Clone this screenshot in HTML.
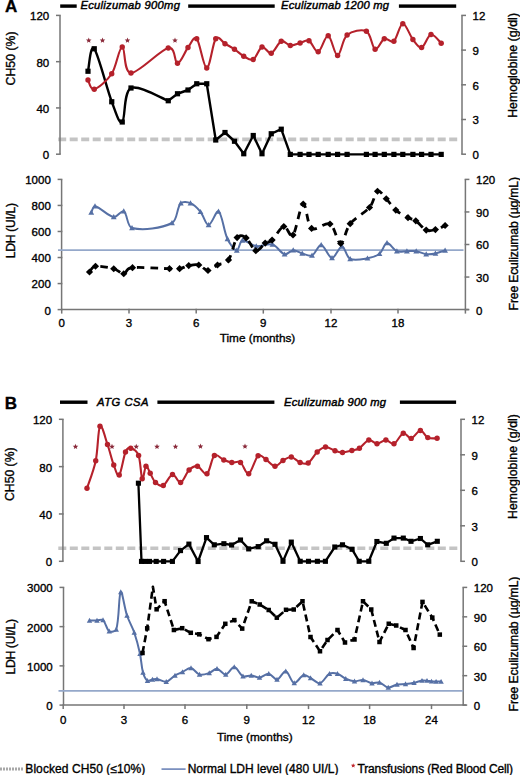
<!DOCTYPE html>
<html><head><meta charset="utf-8"><style>
html,body{margin:0;padding:0;background:#fff;}
svg{display:block;font-family:"Liberation Sans", sans-serif;}
</style></head><body>
<svg width="520" height="775" viewBox="0 0 520 775">
<rect width="520" height="775" fill="#fff"/>
<text x="5.00" y="12.40" font-size="17.00" text-anchor="start" font-weight="bold" font-style="normal" fill="#000" stroke="#000" stroke-width="0.35" >A</text>
<rect x="60.20" y="4.40" width="16.50" height="3.40" fill="#000"/>
<text x="80.40" y="8.90" font-size="11.20" text-anchor="start" font-weight="normal" font-style="italic" fill="#000" stroke="#000" stroke-width="0.45"  textLength="99.50" lengthAdjust="spacing">Eculizumab 900mg</text>
<rect x="188.20" y="4.40" width="86.50" height="3.40" fill="#000"/>
<text x="281.10" y="8.90" font-size="11.20" text-anchor="start" font-weight="normal" font-style="italic" fill="#000" stroke="#000" stroke-width="0.45"  textLength="107.80" lengthAdjust="spacing">Eculizumab 1200 mg</text>
<rect x="398.90" y="4.40" width="57.30" height="3.40" fill="#000"/>
<line x1="58.20" y1="139.40" x2="460.00" y2="139.40" stroke="#c4c4c4" stroke-width="3.60" stroke-dasharray="8 3.5"/>
<line x1="60.00" y1="15.40" x2="60.00" y2="154.20" stroke="#767676" stroke-width="1.50" />
<line x1="56.00" y1="15.40" x2="60.75" y2="15.40" stroke="#767676" stroke-width="1.50" />
<text x="49.20" y="20.30" font-size="11.50" text-anchor="end" font-weight="normal" font-style="normal" fill="#000" stroke="#000" stroke-width="0.35" >120</text>
<line x1="56.00" y1="61.67" x2="60.75" y2="61.67" stroke="#767676" stroke-width="1.50" />
<text x="49.20" y="66.57" font-size="11.50" text-anchor="end" font-weight="normal" font-style="normal" fill="#000" stroke="#000" stroke-width="0.35" >80</text>
<line x1="56.00" y1="107.93" x2="60.75" y2="107.93" stroke="#767676" stroke-width="1.50" />
<text x="49.20" y="112.83" font-size="11.50" text-anchor="end" font-weight="normal" font-style="normal" fill="#000" stroke="#000" stroke-width="0.35" >40</text>
<line x1="56.00" y1="154.20" x2="60.75" y2="154.20" stroke="#767676" stroke-width="1.50" />
<text x="49.20" y="159.10" font-size="11.50" text-anchor="end" font-weight="normal" font-style="normal" fill="#000" stroke="#000" stroke-width="0.35" >0</text>
<line x1="462.00" y1="15.40" x2="462.00" y2="154.20" stroke="#767676" stroke-width="1.50" />
<line x1="461.25" y1="15.40" x2="466.00" y2="15.40" stroke="#767676" stroke-width="1.50" />
<text x="472.60" y="20.30" font-size="11.50" text-anchor="start" font-weight="normal" font-style="normal" fill="#000" stroke="#000" stroke-width="0.35" >12</text>
<line x1="461.25" y1="50.10" x2="466.00" y2="50.10" stroke="#767676" stroke-width="1.50" />
<text x="472.60" y="55.00" font-size="11.50" text-anchor="start" font-weight="normal" font-style="normal" fill="#000" stroke="#000" stroke-width="0.35" >9</text>
<line x1="461.25" y1="84.80" x2="466.00" y2="84.80" stroke="#767676" stroke-width="1.50" />
<text x="472.60" y="89.70" font-size="11.50" text-anchor="start" font-weight="normal" font-style="normal" fill="#000" stroke="#000" stroke-width="0.35" >6</text>
<line x1="461.25" y1="119.50" x2="466.00" y2="119.50" stroke="#767676" stroke-width="1.50" />
<text x="472.60" y="124.40" font-size="11.50" text-anchor="start" font-weight="normal" font-style="normal" fill="#000" stroke="#000" stroke-width="0.35" >3</text>
<line x1="461.25" y1="154.20" x2="466.00" y2="154.20" stroke="#767676" stroke-width="1.50" />
<text x="472.60" y="159.10" font-size="11.50" text-anchor="start" font-weight="normal" font-style="normal" fill="#000" stroke="#000" stroke-width="0.35" >0</text>
<text transform="translate(14.50,58.40) rotate(-90)" x="0" y="0" font-size="12.20" text-anchor="middle" font-weight="normal" stroke="#000" stroke-width="0.35" textLength="54.00" lengthAdjust="spacing">CH50 (%)</text>
<text transform="translate(517.20,65.40) rotate(-90)" x="0" y="0" font-size="12.20" text-anchor="middle" font-weight="normal" stroke="#000" stroke-width="0.35" textLength="104.80" lengthAdjust="spacing">Hemoglobine (g/dl)</text>
<path d="M88.00,71.25 C89.04,67.50 90.29,43.67 94.25,48.75 C98.21,53.83 107.08,89.54 111.75,101.75 C116.42,113.96 119.04,124.29 122.25,122.00 C125.46,119.71 123.33,91.54 131.00,88.00 C138.67,84.46 162.04,98.62 168.25,100.75" fill="none" stroke="#000" stroke-width="2.4" stroke-linejoin="round"/>
<path d="M168.25,100.75 L177.50,93.75 L188.00,90.00 L196.75,83.75 L206.75,83.75 L215.75,140.00 L225.00,132.50 L234.50,141.25 L243.75,153.75 L253.25,135.50 L262.00,153.75 L271.25,133.75 L281.25,129.20 L290.30,154.40 L300.10,154.40 L309.00,154.40 L318.20,154.40 L328.20,154.40 L337.60,154.40 L347.10,154.40 L366.40,154.40 L375.10,154.40 L384.30,154.40 L393.90,154.40 L402.80,154.40 L412.90,154.40 L421.60,154.40 L431.00,154.40 L441.20,154.40" fill="none" stroke="#000" stroke-width="2.4" stroke-linejoin="round"/>
<rect x="85.40" y="68.65" width="5.20" height="5.20" fill="#000"/>
<rect x="91.65" y="46.15" width="5.20" height="5.20" fill="#000"/>
<rect x="109.15" y="99.15" width="5.20" height="5.20" fill="#000"/>
<rect x="119.65" y="119.40" width="5.20" height="5.20" fill="#000"/>
<rect x="128.40" y="85.40" width="5.20" height="5.20" fill="#000"/>
<rect x="165.65" y="98.15" width="5.20" height="5.20" fill="#000"/>
<rect x="174.90" y="91.15" width="5.20" height="5.20" fill="#000"/>
<rect x="185.40" y="87.40" width="5.20" height="5.20" fill="#000"/>
<rect x="194.15" y="81.15" width="5.20" height="5.20" fill="#000"/>
<rect x="204.15" y="81.15" width="5.20" height="5.20" fill="#000"/>
<rect x="213.15" y="137.40" width="5.20" height="5.20" fill="#000"/>
<rect x="222.40" y="129.90" width="5.20" height="5.20" fill="#000"/>
<rect x="231.90" y="138.65" width="5.20" height="5.20" fill="#000"/>
<rect x="241.15" y="151.15" width="5.20" height="5.20" fill="#000"/>
<rect x="250.65" y="132.90" width="5.20" height="5.20" fill="#000"/>
<rect x="259.40" y="151.15" width="5.20" height="5.20" fill="#000"/>
<rect x="268.65" y="131.15" width="5.20" height="5.20" fill="#000"/>
<rect x="278.65" y="126.60" width="5.20" height="5.20" fill="#000"/>
<rect x="287.70" y="151.80" width="5.20" height="5.20" fill="#000"/>
<rect x="297.50" y="151.80" width="5.20" height="5.20" fill="#000"/>
<rect x="306.40" y="151.80" width="5.20" height="5.20" fill="#000"/>
<rect x="315.60" y="151.80" width="5.20" height="5.20" fill="#000"/>
<rect x="325.60" y="151.80" width="5.20" height="5.20" fill="#000"/>
<rect x="335.00" y="151.80" width="5.20" height="5.20" fill="#000"/>
<rect x="344.50" y="151.80" width="5.20" height="5.20" fill="#000"/>
<rect x="363.80" y="151.80" width="5.20" height="5.20" fill="#000"/>
<rect x="372.50" y="151.80" width="5.20" height="5.20" fill="#000"/>
<rect x="381.70" y="151.80" width="5.20" height="5.20" fill="#000"/>
<rect x="391.30" y="151.80" width="5.20" height="5.20" fill="#000"/>
<rect x="400.20" y="151.80" width="5.20" height="5.20" fill="#000"/>
<rect x="410.30" y="151.80" width="5.20" height="5.20" fill="#000"/>
<rect x="419.00" y="151.80" width="5.20" height="5.20" fill="#000"/>
<rect x="428.40" y="151.80" width="5.20" height="5.20" fill="#000"/>
<rect x="438.60" y="151.80" width="5.20" height="5.20" fill="#000"/>
<path d="M88.00,80.00 C89.04,81.54 90.29,90.29 94.25,89.25 C98.21,88.21 107.08,80.79 111.75,73.75 C116.42,66.71 119.04,47.12 122.25,47.00 C125.46,46.88 123.33,72.83 131.00,73.00 C138.67,73.17 160.50,49.62 168.25,48.00 C176.00,46.38 174.21,63.33 177.50,63.25 C180.79,63.17 184.79,51.58 188.00,47.50 C191.21,43.42 193.62,35.33 196.75,38.75 C199.88,42.17 203.58,68.00 206.75,68.00 C209.92,68.00 212.71,42.79 215.75,38.75 C218.79,34.71 221.88,42.00 225.00,43.75 C228.12,45.50 231.38,47.17 234.50,49.25 C237.62,51.33 240.62,54.54 243.75,56.25 C246.88,57.96 250.21,61.04 253.25,59.50 C256.29,57.96 259.00,48.04 262.00,47.00 C265.00,45.96 268.04,54.21 271.25,53.25 C274.46,52.29 278.07,42.54 281.25,41.25 C284.43,39.96 287.16,45.21 290.30,45.50 C293.44,45.79 296.98,43.79 300.10,43.00 C303.22,42.21 305.98,39.29 309.00,40.75 C312.02,42.21 315.00,52.58 318.20,51.75 C321.40,50.92 324.97,35.12 328.20,35.75 C331.43,36.38 334.45,55.62 337.60,55.50 C340.75,55.38 342.30,39.04 347.10,35.00 C351.90,30.96 361.73,28.88 366.40,31.25 C371.07,33.62 372.12,48.00 375.10,49.25 C378.08,50.50 381.17,40.08 384.30,38.75 C387.43,37.42 390.82,43.75 393.90,41.25 C396.98,38.75 399.63,24.04 402.80,23.75 C405.97,23.46 409.77,35.54 412.90,39.50 C416.03,43.46 418.58,48.33 421.60,47.50 C424.62,46.67 427.73,35.21 431.00,34.50 C434.27,33.79 439.50,41.79 441.20,43.25" fill="none" stroke="#b5212b" stroke-width="2.1" stroke-linejoin="round"/>
<circle cx="88.00" cy="80.00" r="2.70" fill="#b5212b"/>
<circle cx="94.25" cy="89.25" r="2.70" fill="#b5212b"/>
<circle cx="111.75" cy="73.75" r="2.70" fill="#b5212b"/>
<circle cx="122.25" cy="47.00" r="2.70" fill="#b5212b"/>
<circle cx="131.00" cy="73.00" r="2.70" fill="#b5212b"/>
<circle cx="168.25" cy="48.00" r="2.70" fill="#b5212b"/>
<circle cx="177.50" cy="63.25" r="2.70" fill="#b5212b"/>
<circle cx="188.00" cy="47.50" r="2.70" fill="#b5212b"/>
<circle cx="196.75" cy="38.75" r="2.70" fill="#b5212b"/>
<circle cx="206.75" cy="68.00" r="2.70" fill="#b5212b"/>
<circle cx="215.75" cy="38.75" r="2.70" fill="#b5212b"/>
<circle cx="225.00" cy="43.75" r="2.70" fill="#b5212b"/>
<circle cx="234.50" cy="49.25" r="2.70" fill="#b5212b"/>
<circle cx="243.75" cy="56.25" r="2.70" fill="#b5212b"/>
<circle cx="253.25" cy="59.50" r="2.70" fill="#b5212b"/>
<circle cx="262.00" cy="47.00" r="2.70" fill="#b5212b"/>
<circle cx="271.25" cy="53.25" r="2.70" fill="#b5212b"/>
<circle cx="281.25" cy="41.25" r="2.70" fill="#b5212b"/>
<circle cx="290.30" cy="45.50" r="2.70" fill="#b5212b"/>
<circle cx="300.10" cy="43.00" r="2.70" fill="#b5212b"/>
<circle cx="309.00" cy="40.75" r="2.70" fill="#b5212b"/>
<circle cx="318.20" cy="51.75" r="2.70" fill="#b5212b"/>
<circle cx="328.20" cy="35.75" r="2.70" fill="#b5212b"/>
<circle cx="337.60" cy="55.50" r="2.70" fill="#b5212b"/>
<circle cx="347.10" cy="35.00" r="2.70" fill="#b5212b"/>
<circle cx="366.40" cy="31.25" r="2.70" fill="#b5212b"/>
<circle cx="375.10" cy="49.25" r="2.70" fill="#b5212b"/>
<circle cx="384.30" cy="38.75" r="2.70" fill="#b5212b"/>
<circle cx="393.90" cy="41.25" r="2.70" fill="#b5212b"/>
<circle cx="402.80" cy="23.75" r="2.70" fill="#b5212b"/>
<circle cx="412.90" cy="39.50" r="2.70" fill="#b5212b"/>
<circle cx="421.60" cy="47.50" r="2.70" fill="#b5212b"/>
<circle cx="431.00" cy="34.50" r="2.70" fill="#b5212b"/>
<circle cx="441.20" cy="43.25" r="2.70" fill="#b5212b"/>
<polygon points="88.75,37.60 89.52,39.44 91.51,39.60 89.99,40.90 90.45,42.85 88.75,41.80 87.05,42.85 87.51,40.90 85.99,39.60 87.98,39.44" fill="#8a2a3a"/>
<polygon points="102.50,37.60 103.27,39.44 105.26,39.60 103.74,40.90 104.20,42.85 102.50,41.80 100.80,42.85 101.26,40.90 99.74,39.60 101.73,39.44" fill="#8a2a3a"/>
<polygon points="127.50,37.60 128.27,39.44 130.26,39.60 128.74,40.90 129.20,42.85 127.50,41.80 125.80,42.85 126.26,40.90 124.74,39.60 126.73,39.44" fill="#8a2a3a"/>
<polygon points="175.00,37.60 175.77,39.44 177.76,39.60 176.24,40.90 176.70,42.85 175.00,41.80 173.30,42.85 173.76,40.90 172.24,39.60 174.23,39.44" fill="#8a2a3a"/>
<line x1="61.60" y1="179.40" x2="61.60" y2="309.60" stroke="#767676" stroke-width="1.50" />
<line x1="57.60" y1="179.40" x2="62.35" y2="179.40" stroke="#767676" stroke-width="1.50" />
<text x="50.80" y="184.30" font-size="11.50" text-anchor="end" font-weight="normal" font-style="normal" fill="#000" stroke="#000" stroke-width="0.35" >1000</text>
<line x1="57.60" y1="205.44" x2="62.35" y2="205.44" stroke="#767676" stroke-width="1.50" />
<text x="50.80" y="210.34" font-size="11.50" text-anchor="end" font-weight="normal" font-style="normal" fill="#000" stroke="#000" stroke-width="0.35" >800</text>
<line x1="57.60" y1="231.48" x2="62.35" y2="231.48" stroke="#767676" stroke-width="1.50" />
<text x="50.80" y="236.38" font-size="11.50" text-anchor="end" font-weight="normal" font-style="normal" fill="#000" stroke="#000" stroke-width="0.35" >600</text>
<line x1="57.60" y1="257.52" x2="62.35" y2="257.52" stroke="#767676" stroke-width="1.50" />
<text x="50.80" y="262.42" font-size="11.50" text-anchor="end" font-weight="normal" font-style="normal" fill="#000" stroke="#000" stroke-width="0.35" >400</text>
<line x1="57.60" y1="283.56" x2="62.35" y2="283.56" stroke="#767676" stroke-width="1.50" />
<text x="50.80" y="288.46" font-size="11.50" text-anchor="end" font-weight="normal" font-style="normal" fill="#000" stroke="#000" stroke-width="0.35" >200</text>
<line x1="57.60" y1="309.60" x2="62.35" y2="309.60" stroke="#767676" stroke-width="1.50" />
<text x="50.80" y="314.50" font-size="11.50" text-anchor="end" font-weight="normal" font-style="normal" fill="#000" stroke="#000" stroke-width="0.35" >0</text>
<line x1="465.40" y1="179.40" x2="465.40" y2="309.60" stroke="#767676" stroke-width="1.50" />
<line x1="464.65" y1="179.40" x2="469.40" y2="179.40" stroke="#767676" stroke-width="1.50" />
<text x="476.00" y="184.30" font-size="11.50" text-anchor="start" font-weight="normal" font-style="normal" fill="#000" stroke="#000" stroke-width="0.35" >120</text>
<line x1="464.65" y1="211.95" x2="469.40" y2="211.95" stroke="#767676" stroke-width="1.50" />
<text x="476.00" y="216.85" font-size="11.50" text-anchor="start" font-weight="normal" font-style="normal" fill="#000" stroke="#000" stroke-width="0.35" >90</text>
<line x1="464.65" y1="244.50" x2="469.40" y2="244.50" stroke="#767676" stroke-width="1.50" />
<text x="476.00" y="249.40" font-size="11.50" text-anchor="start" font-weight="normal" font-style="normal" fill="#000" stroke="#000" stroke-width="0.35" >60</text>
<line x1="464.65" y1="277.05" x2="469.40" y2="277.05" stroke="#767676" stroke-width="1.50" />
<text x="476.00" y="281.95" font-size="11.50" text-anchor="start" font-weight="normal" font-style="normal" fill="#000" stroke="#000" stroke-width="0.35" >30</text>
<line x1="464.65" y1="309.60" x2="469.40" y2="309.60" stroke="#767676" stroke-width="1.50" />
<text x="476.00" y="314.50" font-size="11.50" text-anchor="start" font-weight="normal" font-style="normal" fill="#000" stroke="#000" stroke-width="0.35" >0</text>
<line x1="61.60" y1="309.60" x2="468.80" y2="309.60" stroke="#767676" stroke-width="1.50" />
<line x1="465.40" y1="309.60" x2="465.40" y2="313.60" stroke="#767676" stroke-width="1.50" />
<line x1="61.70" y1="308.85" x2="61.70" y2="313.60" stroke="#767676" stroke-width="1.50" />
<text x="61.70" y="327.40" font-size="11.50" text-anchor="middle" font-weight="normal" font-style="normal" fill="#000" stroke="#000" stroke-width="0.35" >0</text>
<line x1="129.00" y1="308.85" x2="129.00" y2="313.60" stroke="#767676" stroke-width="1.50" />
<text x="129.00" y="327.40" font-size="11.50" text-anchor="middle" font-weight="normal" font-style="normal" fill="#000" stroke="#000" stroke-width="0.35" >3</text>
<line x1="196.20" y1="308.85" x2="196.20" y2="313.60" stroke="#767676" stroke-width="1.50" />
<text x="196.20" y="327.40" font-size="11.50" text-anchor="middle" font-weight="normal" font-style="normal" fill="#000" stroke="#000" stroke-width="0.35" >6</text>
<line x1="263.30" y1="308.85" x2="263.30" y2="313.60" stroke="#767676" stroke-width="1.50" />
<text x="263.30" y="327.40" font-size="11.50" text-anchor="middle" font-weight="normal" font-style="normal" fill="#000" stroke="#000" stroke-width="0.35" >9</text>
<line x1="331.00" y1="308.85" x2="331.00" y2="313.60" stroke="#767676" stroke-width="1.50" />
<text x="331.00" y="327.40" font-size="11.50" text-anchor="middle" font-weight="normal" font-style="normal" fill="#000" stroke="#000" stroke-width="0.35" >12</text>
<line x1="398.00" y1="308.85" x2="398.00" y2="313.60" stroke="#767676" stroke-width="1.50" />
<text x="398.00" y="327.40" font-size="11.50" text-anchor="middle" font-weight="normal" font-style="normal" fill="#000" stroke="#000" stroke-width="0.35" >18</text>
<text x="257.50" y="341.60" font-size="11.80" text-anchor="middle" font-weight="normal" font-style="normal" fill="#000" stroke="#000" stroke-width="0.35" >Time (months)</text>
<text transform="translate(14.50,230.50) rotate(-90)" x="0" y="0" font-size="12.20" text-anchor="middle" font-weight="normal" stroke="#000" stroke-width="0.35" textLength="55.30" lengthAdjust="spacing">LDH (UI/L)</text>
<text transform="translate(518.00,243.70) rotate(-90)" x="0" y="0" font-size="12.20" text-anchor="middle" font-weight="normal" stroke="#000" stroke-width="0.35" textLength="133.40" lengthAdjust="spacing">Free Eculizumab (µg/mL)</text>
<line x1="58.00" y1="250.10" x2="463.50" y2="250.10" stroke="#95a8ca" stroke-width="1.80" />
<path d="M91.25,212.50 C91.88,211.46 93.11,205.87 95.00,206.25 C100.61,207.37 107.50,215.91 113.75,217.00 C117.08,217.58 121.43,209.85 123.75,211.25 C127.51,213.52 126.91,226.76 132.00,228.00 C142.99,230.68 161.42,228.38 172.00,223.00 C177.69,220.11 176.54,207.76 180.80,203.20 C182.71,201.16 187.72,201.99 190.50,203.20 C194.28,204.85 197.73,208.46 200.50,211.80 C203.76,215.72 205.72,225.05 208.60,225.00 C211.72,224.95 216.19,209.79 218.50,211.50 C222.49,214.46 223.46,230.40 227.50,239.00 C229.56,243.37 234.00,250.12 236.80,250.40 C238.97,250.62 239.60,241.12 242.40,240.50 C246.10,239.69 251.49,245.48 256.30,246.10 C261.53,246.78 267.69,243.01 272.50,244.40 C277.12,245.74 280.31,253.10 284.60,254.30 C287.21,255.03 290.28,250.33 293.20,250.20 C296.14,250.07 299.13,252.65 302.20,253.50 C305.40,254.38 309.36,256.60 312.00,255.40 C315.69,253.73 318.19,244.51 321.20,244.90 C324.86,245.38 328.35,257.72 332.00,258.00 C335.28,258.25 338.93,246.35 342.00,246.50 C345.00,246.65 346.27,257.08 350.20,258.90 C354.77,261.02 361.89,259.28 367.50,258.30 C371.65,257.58 376.29,256.32 379.50,253.80 C382.79,251.22 384.07,243.44 387.00,243.00 C389.87,242.57 393.17,249.66 396.90,251.20 C399.80,252.40 403.57,251.20 406.90,251.20 C410.00,251.20 413.17,250.73 416.20,251.20 C419.60,251.73 422.80,253.79 426.20,254.20 C429.20,254.56 432.41,254.10 435.40,253.50 C438.71,252.84 443.48,250.92 445.10,250.40" fill="none" stroke="#5670a5" stroke-width="2" stroke-linejoin="round"/>
<path d="M91.25,209.60 L94.15,214.82 L88.35,214.82 Z" fill="#5670a5"/>
<path d="M95.00,203.35 L97.90,208.57 L92.10,208.57 Z" fill="#5670a5"/>
<path d="M113.75,214.10 L116.65,219.32 L110.85,219.32 Z" fill="#5670a5"/>
<path d="M123.75,208.35 L126.65,213.57 L120.85,213.57 Z" fill="#5670a5"/>
<path d="M132.00,225.10 L134.90,230.32 L129.10,230.32 Z" fill="#5670a5"/>
<path d="M172.00,220.10 L174.90,225.32 L169.10,225.32 Z" fill="#5670a5"/>
<path d="M180.80,200.30 L183.70,205.52 L177.90,205.52 Z" fill="#5670a5"/>
<path d="M190.50,200.30 L193.40,205.52 L187.60,205.52 Z" fill="#5670a5"/>
<path d="M200.50,208.90 L203.40,214.12 L197.60,214.12 Z" fill="#5670a5"/>
<path d="M208.60,222.10 L211.50,227.32 L205.70,227.32 Z" fill="#5670a5"/>
<path d="M218.50,208.60 L221.40,213.82 L215.60,213.82 Z" fill="#5670a5"/>
<path d="M227.50,236.10 L230.40,241.32 L224.60,241.32 Z" fill="#5670a5"/>
<path d="M236.80,247.50 L239.70,252.72 L233.90,252.72 Z" fill="#5670a5"/>
<path d="M242.40,237.60 L245.30,242.82 L239.50,242.82 Z" fill="#5670a5"/>
<path d="M256.30,243.20 L259.20,248.42 L253.40,248.42 Z" fill="#5670a5"/>
<path d="M272.50,241.50 L275.40,246.72 L269.60,246.72 Z" fill="#5670a5"/>
<path d="M284.60,251.40 L287.50,256.62 L281.70,256.62 Z" fill="#5670a5"/>
<path d="M293.20,247.30 L296.10,252.52 L290.30,252.52 Z" fill="#5670a5"/>
<path d="M302.20,250.60 L305.10,255.82 L299.30,255.82 Z" fill="#5670a5"/>
<path d="M312.00,252.50 L314.90,257.72 L309.10,257.72 Z" fill="#5670a5"/>
<path d="M321.20,242.00 L324.10,247.22 L318.30,247.22 Z" fill="#5670a5"/>
<path d="M332.00,255.10 L334.90,260.32 L329.10,260.32 Z" fill="#5670a5"/>
<path d="M342.00,243.60 L344.90,248.82 L339.10,248.82 Z" fill="#5670a5"/>
<path d="M350.20,256.00 L353.10,261.22 L347.30,261.22 Z" fill="#5670a5"/>
<path d="M367.50,255.40 L370.40,260.62 L364.60,260.62 Z" fill="#5670a5"/>
<path d="M379.50,250.90 L382.40,256.12 L376.60,256.12 Z" fill="#5670a5"/>
<path d="M387.00,240.10 L389.90,245.32 L384.10,245.32 Z" fill="#5670a5"/>
<path d="M396.90,248.30 L399.80,253.52 L394.00,253.52 Z" fill="#5670a5"/>
<path d="M406.90,248.30 L409.80,253.52 L404.00,253.52 Z" fill="#5670a5"/>
<path d="M416.20,248.30 L419.10,253.52 L413.30,253.52 Z" fill="#5670a5"/>
<path d="M426.20,251.30 L429.10,256.52 L423.30,256.52 Z" fill="#5670a5"/>
<path d="M435.40,250.60 L438.30,255.82 L432.50,255.82 Z" fill="#5670a5"/>
<path d="M445.10,247.50 L448.00,252.72 L442.20,252.72 Z" fill="#5670a5"/>
<path d="M89.50,272.00 C90.50,271.04 91.46,266.79 95.50,266.25 C99.54,265.71 109.04,267.50 113.75,268.75 C118.46,270.00 120.62,273.93 123.75,273.75 C126.88,273.57 124.88,268.54 132.50,267.70 C140.12,266.86 161.65,268.53 169.50,268.70 C177.35,268.87 176.39,269.22 179.60,268.70 C182.81,268.18 185.56,266.22 188.75,265.60 C191.94,264.98 195.54,264.18 198.75,265.00 C201.96,265.82 204.88,270.50 208.00,270.50 C211.12,270.50 214.08,266.77 217.50,265.00 C220.92,263.23 225.23,264.47 228.50,259.90 C231.77,255.33 234.17,241.27 237.10,237.60 C240.03,233.93 242.98,235.72 246.10,237.90 C249.22,240.08 252.62,249.83 255.80,250.70 C258.98,251.57 262.48,244.87 265.20,243.10 C267.92,241.33 269.00,242.87 272.10,240.10 C275.20,237.33 280.32,227.35 283.80,226.50 C287.28,225.65 289.77,238.75 293.00,235.00 C296.23,231.25 300.10,205.10 303.20,204.00 C306.30,202.90 307.13,225.07 311.60,228.40 C316.07,231.73 325.15,221.48 330.00,224.00 C334.85,226.52 337.33,243.55 340.70,243.50 C344.07,243.45 345.40,229.70 350.20,223.70 C355.00,217.70 364.95,212.91 369.50,207.50 C374.05,202.09 374.71,192.71 377.50,191.25 C380.29,189.79 383.20,195.61 386.25,198.75 C389.30,201.89 392.18,206.94 395.80,210.10 C399.43,213.26 404.67,215.92 408.00,217.70 C411.33,219.48 412.77,218.73 415.80,220.80 C418.83,222.87 422.93,228.63 426.20,230.10 C429.47,231.57 432.25,230.37 435.40,229.60 C438.55,228.83 443.48,226.18 445.10,225.50" fill="none" stroke="#000" stroke-width="2.8" stroke-dasharray="7.5 6" stroke-linejoin="round"/>
<path d="M89.50,268.40 L93.10,272.00 L89.50,275.60 L85.90,272.00 Z" fill="#000"/>
<path d="M95.50,262.65 L99.10,266.25 L95.50,269.85 L91.90,266.25 Z" fill="#000"/>
<path d="M113.75,265.15 L117.35,268.75 L113.75,272.35 L110.15,268.75 Z" fill="#000"/>
<path d="M123.75,270.15 L127.35,273.75 L123.75,277.35 L120.15,273.75 Z" fill="#000"/>
<path d="M132.50,264.10 L136.10,267.70 L132.50,271.30 L128.90,267.70 Z" fill="#000"/>
<path d="M169.50,265.10 L173.10,268.70 L169.50,272.30 L165.90,268.70 Z" fill="#000"/>
<path d="M179.60,265.10 L183.20,268.70 L179.60,272.30 L176.00,268.70 Z" fill="#000"/>
<path d="M188.75,262.00 L192.35,265.60 L188.75,269.20 L185.15,265.60 Z" fill="#000"/>
<path d="M198.75,261.40 L202.35,265.00 L198.75,268.60 L195.15,265.00 Z" fill="#000"/>
<path d="M208.00,266.90 L211.60,270.50 L208.00,274.10 L204.40,270.50 Z" fill="#000"/>
<path d="M217.50,261.40 L221.10,265.00 L217.50,268.60 L213.90,265.00 Z" fill="#000"/>
<path d="M228.50,256.30 L232.10,259.90 L228.50,263.50 L224.90,259.90 Z" fill="#000"/>
<path d="M237.10,234.00 L240.70,237.60 L237.10,241.20 L233.50,237.60 Z" fill="#000"/>
<path d="M246.10,234.30 L249.70,237.90 L246.10,241.50 L242.50,237.90 Z" fill="#000"/>
<path d="M255.80,247.10 L259.40,250.70 L255.80,254.30 L252.20,250.70 Z" fill="#000"/>
<path d="M265.20,239.50 L268.80,243.10 L265.20,246.70 L261.60,243.10 Z" fill="#000"/>
<path d="M272.10,236.50 L275.70,240.10 L272.10,243.70 L268.50,240.10 Z" fill="#000"/>
<path d="M283.80,222.90 L287.40,226.50 L283.80,230.10 L280.20,226.50 Z" fill="#000"/>
<path d="M293.00,231.40 L296.60,235.00 L293.00,238.60 L289.40,235.00 Z" fill="#000"/>
<path d="M303.20,200.40 L306.80,204.00 L303.20,207.60 L299.60,204.00 Z" fill="#000"/>
<path d="M311.60,224.80 L315.20,228.40 L311.60,232.00 L308.00,228.40 Z" fill="#000"/>
<path d="M330.00,220.40 L333.60,224.00 L330.00,227.60 L326.40,224.00 Z" fill="#000"/>
<path d="M340.70,239.90 L344.30,243.50 L340.70,247.10 L337.10,243.50 Z" fill="#000"/>
<path d="M350.20,220.10 L353.80,223.70 L350.20,227.30 L346.60,223.70 Z" fill="#000"/>
<path d="M369.50,203.90 L373.10,207.50 L369.50,211.10 L365.90,207.50 Z" fill="#000"/>
<path d="M377.50,187.65 L381.10,191.25 L377.50,194.85 L373.90,191.25 Z" fill="#000"/>
<path d="M386.25,195.15 L389.85,198.75 L386.25,202.35 L382.65,198.75 Z" fill="#000"/>
<path d="M395.80,206.50 L399.40,210.10 L395.80,213.70 L392.20,210.10 Z" fill="#000"/>
<path d="M408.00,214.10 L411.60,217.70 L408.00,221.30 L404.40,217.70 Z" fill="#000"/>
<path d="M415.80,217.20 L419.40,220.80 L415.80,224.40 L412.20,220.80 Z" fill="#000"/>
<path d="M426.20,226.50 L429.80,230.10 L426.20,233.70 L422.60,230.10 Z" fill="#000"/>
<path d="M435.40,226.00 L439.00,229.60 L435.40,233.20 L431.80,229.60 Z" fill="#000"/>
<path d="M445.10,221.90 L448.70,225.50 L445.10,229.10 L441.50,225.50 Z" fill="#000"/>
<text x="4.70" y="409.10" font-size="17.00" text-anchor="start" font-weight="bold" font-style="normal" fill="#000" stroke="#000" stroke-width="0.35" >B</text>
<rect x="60.00" y="400.50" width="27.50" height="3.40" fill="#000"/>
<text x="97.10" y="405.60" font-size="11.20" text-anchor="start" font-weight="normal" font-style="italic" fill="#000" stroke="#000" stroke-width="0.45"  textLength="51.30" lengthAdjust="spacing">ATG CSA</text>
<rect x="157.40" y="400.50" width="117.00" height="3.40" fill="#000"/>
<text x="284.10" y="405.60" font-size="11.20" text-anchor="start" font-weight="normal" font-style="italic" fill="#000" stroke="#000" stroke-width="0.45"  textLength="101.80" lengthAdjust="spacing">Eculizumab 900 mg</text>
<rect x="399.90" y="400.50" width="56.20" height="3.40" fill="#000"/>
<line x1="58.30" y1="548.30" x2="459.00" y2="548.30" stroke="#c4c4c4" stroke-width="3.60" stroke-dasharray="8 3.5"/>
<line x1="62.90" y1="419.30" x2="62.90" y2="561.30" stroke="#767676" stroke-width="1.50" />
<line x1="58.90" y1="419.30" x2="63.65" y2="419.30" stroke="#767676" stroke-width="1.50" />
<text x="52.10" y="424.20" font-size="11.50" text-anchor="end" font-weight="normal" font-style="normal" fill="#000" stroke="#000" stroke-width="0.35" >120</text>
<line x1="58.90" y1="466.63" x2="63.65" y2="466.63" stroke="#767676" stroke-width="1.50" />
<text x="52.10" y="471.53" font-size="11.50" text-anchor="end" font-weight="normal" font-style="normal" fill="#000" stroke="#000" stroke-width="0.35" >80</text>
<line x1="58.90" y1="513.97" x2="63.65" y2="513.97" stroke="#767676" stroke-width="1.50" />
<text x="52.10" y="518.87" font-size="11.50" text-anchor="end" font-weight="normal" font-style="normal" fill="#000" stroke="#000" stroke-width="0.35" >40</text>
<line x1="58.90" y1="561.30" x2="63.65" y2="561.30" stroke="#767676" stroke-width="1.50" />
<text x="52.10" y="566.20" font-size="11.50" text-anchor="end" font-weight="normal" font-style="normal" fill="#000" stroke="#000" stroke-width="0.35" >0</text>
<line x1="461.00" y1="419.30" x2="461.00" y2="561.30" stroke="#767676" stroke-width="1.50" />
<line x1="460.25" y1="419.30" x2="465.00" y2="419.30" stroke="#767676" stroke-width="1.50" />
<text x="471.60" y="424.20" font-size="11.50" text-anchor="start" font-weight="normal" font-style="normal" fill="#000" stroke="#000" stroke-width="0.35" >12</text>
<line x1="460.25" y1="454.80" x2="465.00" y2="454.80" stroke="#767676" stroke-width="1.50" />
<text x="471.60" y="459.70" font-size="11.50" text-anchor="start" font-weight="normal" font-style="normal" fill="#000" stroke="#000" stroke-width="0.35" >9</text>
<line x1="460.25" y1="490.30" x2="465.00" y2="490.30" stroke="#767676" stroke-width="1.50" />
<text x="471.60" y="495.20" font-size="11.50" text-anchor="start" font-weight="normal" font-style="normal" fill="#000" stroke="#000" stroke-width="0.35" >6</text>
<line x1="460.25" y1="525.80" x2="465.00" y2="525.80" stroke="#767676" stroke-width="1.50" />
<text x="471.60" y="530.70" font-size="11.50" text-anchor="start" font-weight="normal" font-style="normal" fill="#000" stroke="#000" stroke-width="0.35" >3</text>
<line x1="460.25" y1="561.30" x2="465.00" y2="561.30" stroke="#767676" stroke-width="1.50" />
<text x="471.60" y="566.20" font-size="11.50" text-anchor="start" font-weight="normal" font-style="normal" fill="#000" stroke="#000" stroke-width="0.35" >0</text>
<text transform="translate(14.30,474.20) rotate(-90)" x="0" y="0" font-size="12.20" text-anchor="middle" font-weight="normal" stroke="#000" stroke-width="0.35" textLength="53.60" lengthAdjust="spacing">CH50 (%)</text>
<text transform="translate(517.20,466.50) rotate(-90)" x="0" y="0" font-size="12.20" text-anchor="middle" font-weight="normal" stroke="#000" stroke-width="0.35" textLength="104.90" lengthAdjust="spacing">Hemoglobine (g/dl)</text>
<path d="M138.40,483.20 L141.50,561.40 L145.00,561.40 L149.50,561.40 L156.20,561.40 L163.60,561.40 L172.40,561.40 L180.50,550.60 L188.90,544.10 L198.10,561.50 L206.50,537.60 L214.30,544.80 L223.90,543.70 L231.60,545.00 L240.50,540.00 L248.70,548.90 L258.20,546.60 L266.60,540.80 L275.00,544.30 L283.00,561.30 L291.30,542.10 L300.20,561.30 L308.50,561.30 L317.40,561.30 L325.40,561.30 L334.80,547.00 L342.50,544.80 L352.10,549.30 L359.20,561.30 L368.80,561.30 L376.90,541.50 L386.30,543.30 L394.00,538.10 L403.30,538.10 L411.00,541.30 L420.40,538.50 L427.70,544.80 L437.30,541.30" fill="none" stroke="#000" stroke-width="2.3" stroke-linejoin="round"/>
<rect x="135.85" y="480.65" width="5.10" height="5.10" fill="#000"/>
<rect x="138.95" y="558.85" width="5.10" height="5.10" fill="#000"/>
<rect x="142.45" y="558.85" width="5.10" height="5.10" fill="#000"/>
<rect x="146.95" y="558.85" width="5.10" height="5.10" fill="#000"/>
<rect x="153.65" y="558.85" width="5.10" height="5.10" fill="#000"/>
<rect x="161.05" y="558.85" width="5.10" height="5.10" fill="#000"/>
<rect x="169.85" y="558.85" width="5.10" height="5.10" fill="#000"/>
<rect x="177.95" y="548.05" width="5.10" height="5.10" fill="#000"/>
<rect x="186.35" y="541.55" width="5.10" height="5.10" fill="#000"/>
<rect x="195.55" y="558.95" width="5.10" height="5.10" fill="#000"/>
<rect x="203.95" y="535.05" width="5.10" height="5.10" fill="#000"/>
<rect x="211.75" y="542.25" width="5.10" height="5.10" fill="#000"/>
<rect x="221.35" y="541.15" width="5.10" height="5.10" fill="#000"/>
<rect x="229.05" y="542.45" width="5.10" height="5.10" fill="#000"/>
<rect x="237.95" y="537.45" width="5.10" height="5.10" fill="#000"/>
<rect x="246.15" y="546.35" width="5.10" height="5.10" fill="#000"/>
<rect x="255.65" y="544.05" width="5.10" height="5.10" fill="#000"/>
<rect x="264.05" y="538.25" width="5.10" height="5.10" fill="#000"/>
<rect x="272.45" y="541.75" width="5.10" height="5.10" fill="#000"/>
<rect x="280.45" y="558.75" width="5.10" height="5.10" fill="#000"/>
<rect x="288.75" y="539.55" width="5.10" height="5.10" fill="#000"/>
<rect x="297.65" y="558.75" width="5.10" height="5.10" fill="#000"/>
<rect x="305.95" y="558.75" width="5.10" height="5.10" fill="#000"/>
<rect x="314.85" y="558.75" width="5.10" height="5.10" fill="#000"/>
<rect x="322.85" y="558.75" width="5.10" height="5.10" fill="#000"/>
<rect x="332.25" y="544.45" width="5.10" height="5.10" fill="#000"/>
<rect x="339.95" y="542.25" width="5.10" height="5.10" fill="#000"/>
<rect x="349.55" y="546.75" width="5.10" height="5.10" fill="#000"/>
<rect x="356.65" y="558.75" width="5.10" height="5.10" fill="#000"/>
<rect x="366.25" y="558.75" width="5.10" height="5.10" fill="#000"/>
<rect x="374.35" y="538.95" width="5.10" height="5.10" fill="#000"/>
<rect x="383.75" y="540.75" width="5.10" height="5.10" fill="#000"/>
<rect x="391.45" y="535.55" width="5.10" height="5.10" fill="#000"/>
<rect x="400.75" y="535.55" width="5.10" height="5.10" fill="#000"/>
<rect x="408.45" y="538.75" width="5.10" height="5.10" fill="#000"/>
<rect x="417.85" y="535.95" width="5.10" height="5.10" fill="#000"/>
<rect x="425.15" y="542.25" width="5.10" height="5.10" fill="#000"/>
<rect x="434.75" y="538.75" width="5.10" height="5.10" fill="#000"/>
<path d="M87.00,488.25 C88.46,483.67 93.58,471.08 95.75,460.75 C97.92,450.42 98.04,428.96 100.00,426.25 C101.96,423.54 105.21,438.04 107.50,444.50 C109.79,450.96 111.79,459.92 113.75,465.00 C115.71,470.08 117.29,477.17 119.25,475.00 C121.21,472.83 123.58,456.46 125.50,452.00 C127.42,447.54 128.57,447.67 130.75,448.25 C132.93,448.83 136.69,450.42 138.60,455.50 C140.51,460.58 140.97,476.96 142.20,478.75 C143.43,480.54 144.67,467.17 146.00,466.25 C147.33,465.33 148.62,470.54 150.20,473.25 C151.78,475.96 153.32,480.46 155.50,482.50 C157.68,484.54 160.47,486.83 163.30,485.50 C166.13,484.17 169.62,475.00 172.50,474.50 C175.38,474.00 177.83,483.25 180.60,482.50 C183.37,481.75 186.28,472.71 189.10,470.00 C191.92,467.29 194.52,465.62 197.50,466.25 C200.48,466.88 204.18,475.54 207.00,473.75 C209.82,471.96 211.60,457.79 214.40,455.50 C217.20,453.21 220.90,458.83 223.80,460.00 C226.70,461.17 229.02,462.08 231.80,462.50 C234.58,462.92 237.68,460.62 240.50,462.50 C243.32,464.38 245.77,474.88 248.70,473.75 C251.63,472.62 255.22,458.12 258.10,455.75 C260.98,453.38 263.18,457.75 266.00,459.50 C268.82,461.25 272.17,466.08 275.00,466.25 C277.83,466.42 280.28,462.04 283.00,460.50 C285.72,458.96 288.45,456.67 291.30,457.00 C294.15,457.33 297.28,461.50 300.10,462.50 C302.92,463.50 305.35,464.75 308.20,463.00 C311.05,461.25 314.32,454.67 317.20,452.00 C320.08,449.33 322.53,447.21 325.50,447.00 C328.47,446.79 332.17,449.83 335.00,450.75 C337.83,451.67 339.68,452.54 342.50,452.50 C345.32,452.46 349.08,451.21 351.90,450.50 C354.72,449.79 356.58,450.00 359.40,448.25 C362.22,446.50 365.87,440.75 368.80,440.00 C371.73,439.25 374.15,443.75 377.00,443.75 C379.85,443.75 383.07,440.00 385.90,440.00 C388.73,440.00 391.10,444.88 394.00,443.75 C396.90,442.62 400.43,434.14 403.30,433.25 C406.17,432.36 408.35,438.86 411.20,438.40 C414.05,437.94 417.63,430.63 420.40,430.50 C423.17,430.37 425.02,436.30 427.80,437.60 C430.58,438.90 435.55,438.18 437.10,438.30" fill="none" stroke="#b5212b" stroke-width="2.1" stroke-linejoin="round"/>
<circle cx="87.00" cy="488.25" r="2.70" fill="#b5212b"/>
<circle cx="95.75" cy="460.75" r="2.70" fill="#b5212b"/>
<circle cx="100.00" cy="426.25" r="2.70" fill="#b5212b"/>
<circle cx="107.50" cy="444.50" r="2.70" fill="#b5212b"/>
<circle cx="113.75" cy="465.00" r="2.70" fill="#b5212b"/>
<circle cx="119.25" cy="475.00" r="2.70" fill="#b5212b"/>
<circle cx="125.50" cy="452.00" r="2.70" fill="#b5212b"/>
<circle cx="130.75" cy="448.25" r="2.70" fill="#b5212b"/>
<circle cx="138.60" cy="455.50" r="2.70" fill="#b5212b"/>
<circle cx="142.20" cy="478.75" r="2.70" fill="#b5212b"/>
<circle cx="146.00" cy="466.25" r="2.70" fill="#b5212b"/>
<circle cx="150.20" cy="473.25" r="2.70" fill="#b5212b"/>
<circle cx="155.50" cy="482.50" r="2.70" fill="#b5212b"/>
<circle cx="163.30" cy="485.50" r="2.70" fill="#b5212b"/>
<circle cx="172.50" cy="474.50" r="2.70" fill="#b5212b"/>
<circle cx="180.60" cy="482.50" r="2.70" fill="#b5212b"/>
<circle cx="189.10" cy="470.00" r="2.70" fill="#b5212b"/>
<circle cx="197.50" cy="466.25" r="2.70" fill="#b5212b"/>
<circle cx="207.00" cy="473.75" r="2.70" fill="#b5212b"/>
<circle cx="214.40" cy="455.50" r="2.70" fill="#b5212b"/>
<circle cx="223.80" cy="460.00" r="2.70" fill="#b5212b"/>
<circle cx="231.80" cy="462.50" r="2.70" fill="#b5212b"/>
<circle cx="240.50" cy="462.50" r="2.70" fill="#b5212b"/>
<circle cx="248.70" cy="473.75" r="2.70" fill="#b5212b"/>
<circle cx="258.10" cy="455.75" r="2.70" fill="#b5212b"/>
<circle cx="266.00" cy="459.50" r="2.70" fill="#b5212b"/>
<circle cx="275.00" cy="466.25" r="2.70" fill="#b5212b"/>
<circle cx="283.00" cy="460.50" r="2.70" fill="#b5212b"/>
<circle cx="291.30" cy="457.00" r="2.70" fill="#b5212b"/>
<circle cx="300.10" cy="462.50" r="2.70" fill="#b5212b"/>
<circle cx="308.20" cy="463.00" r="2.70" fill="#b5212b"/>
<circle cx="317.20" cy="452.00" r="2.70" fill="#b5212b"/>
<circle cx="325.50" cy="447.00" r="2.70" fill="#b5212b"/>
<circle cx="335.00" cy="450.75" r="2.70" fill="#b5212b"/>
<circle cx="342.50" cy="452.50" r="2.70" fill="#b5212b"/>
<circle cx="351.90" cy="450.50" r="2.70" fill="#b5212b"/>
<circle cx="359.40" cy="448.25" r="2.70" fill="#b5212b"/>
<circle cx="368.80" cy="440.00" r="2.70" fill="#b5212b"/>
<circle cx="377.00" cy="443.75" r="2.70" fill="#b5212b"/>
<circle cx="385.90" cy="440.00" r="2.70" fill="#b5212b"/>
<circle cx="394.00" cy="443.75" r="2.70" fill="#b5212b"/>
<circle cx="403.30" cy="433.25" r="2.70" fill="#b5212b"/>
<circle cx="411.20" cy="438.40" r="2.70" fill="#b5212b"/>
<circle cx="420.40" cy="430.50" r="2.70" fill="#b5212b"/>
<circle cx="427.80" cy="437.60" r="2.70" fill="#b5212b"/>
<circle cx="437.10" cy="438.30" r="2.70" fill="#b5212b"/>
<polygon points="75.50,443.85 76.27,445.69 78.26,445.85 76.74,447.15 77.20,449.10 75.50,448.06 73.80,449.10 74.26,447.15 72.74,445.85 74.73,445.69" fill="#8a2a3a"/>
<polygon points="112.00,443.85 112.77,445.69 114.76,445.85 113.24,447.15 113.70,449.10 112.00,448.06 110.30,449.10 110.76,447.15 109.24,445.85 111.23,445.69" fill="#8a2a3a"/>
<polygon points="136.25,443.85 137.02,445.69 139.01,445.85 137.49,447.15 137.95,449.10 136.25,448.06 134.55,449.10 135.01,447.15 133.49,445.85 135.48,445.69" fill="#8a2a3a"/>
<polygon points="157.00,443.85 157.77,445.69 159.76,445.85 158.24,447.15 158.70,449.10 157.00,448.06 155.30,449.10 155.76,447.15 154.24,445.85 156.23,445.69" fill="#8a2a3a"/>
<polygon points="175.50,443.85 176.27,445.69 178.26,445.85 176.74,447.15 177.20,449.10 175.50,448.06 173.80,449.10 174.26,447.15 172.74,445.85 174.73,445.69" fill="#8a2a3a"/>
<polygon points="200.50,443.60 201.27,445.44 203.26,445.60 201.74,446.90 202.20,448.85 200.50,447.81 198.80,448.85 199.26,446.90 197.74,445.60 199.73,445.44" fill="#8a2a3a"/>
<polygon points="245.00,443.60 245.77,445.44 247.76,445.60 246.24,446.90 246.70,448.85 245.00,447.81 243.30,448.85 243.76,446.90 242.24,445.60 244.23,445.44" fill="#8a2a3a"/>
<line x1="63.50" y1="587.40" x2="63.50" y2="705.10" stroke="#767676" stroke-width="1.50" />
<line x1="59.50" y1="587.40" x2="64.25" y2="587.40" stroke="#767676" stroke-width="1.50" />
<text x="52.70" y="592.30" font-size="11.50" text-anchor="end" font-weight="normal" font-style="normal" fill="#000" stroke="#000" stroke-width="0.35" >3000</text>
<line x1="59.50" y1="626.63" x2="64.25" y2="626.63" stroke="#767676" stroke-width="1.50" />
<text x="52.70" y="631.53" font-size="11.50" text-anchor="end" font-weight="normal" font-style="normal" fill="#000" stroke="#000" stroke-width="0.35" >2000</text>
<line x1="59.50" y1="665.87" x2="64.25" y2="665.87" stroke="#767676" stroke-width="1.50" />
<text x="52.70" y="670.77" font-size="11.50" text-anchor="end" font-weight="normal" font-style="normal" fill="#000" stroke="#000" stroke-width="0.35" >1000</text>
<line x1="59.50" y1="705.10" x2="64.25" y2="705.10" stroke="#767676" stroke-width="1.50" />
<text x="52.70" y="710.00" font-size="11.50" text-anchor="end" font-weight="normal" font-style="normal" fill="#000" stroke="#000" stroke-width="0.35" >0</text>
<line x1="463.20" y1="587.40" x2="463.20" y2="705.10" stroke="#767676" stroke-width="1.50" />
<line x1="462.45" y1="587.40" x2="467.20" y2="587.40" stroke="#767676" stroke-width="1.50" />
<text x="473.80" y="592.30" font-size="11.50" text-anchor="start" font-weight="normal" font-style="normal" fill="#000" stroke="#000" stroke-width="0.35" >120</text>
<line x1="462.45" y1="616.83" x2="467.20" y2="616.83" stroke="#767676" stroke-width="1.50" />
<text x="473.80" y="621.73" font-size="11.50" text-anchor="start" font-weight="normal" font-style="normal" fill="#000" stroke="#000" stroke-width="0.35" >90</text>
<line x1="462.45" y1="646.25" x2="467.20" y2="646.25" stroke="#767676" stroke-width="1.50" />
<text x="473.80" y="651.15" font-size="11.50" text-anchor="start" font-weight="normal" font-style="normal" fill="#000" stroke="#000" stroke-width="0.35" >60</text>
<line x1="462.45" y1="675.67" x2="467.20" y2="675.67" stroke="#767676" stroke-width="1.50" />
<text x="473.80" y="680.57" font-size="11.50" text-anchor="start" font-weight="normal" font-style="normal" fill="#000" stroke="#000" stroke-width="0.35" >30</text>
<line x1="462.45" y1="705.10" x2="467.20" y2="705.10" stroke="#767676" stroke-width="1.50" />
<text x="473.80" y="710.00" font-size="11.50" text-anchor="start" font-weight="normal" font-style="normal" fill="#000" stroke="#000" stroke-width="0.35" >0</text>
<line x1="63.50" y1="705.10" x2="466.30" y2="705.10" stroke="#767676" stroke-width="1.50" />
<line x1="63.20" y1="704.35" x2="63.20" y2="709.10" stroke="#767676" stroke-width="1.50" />
<text x="63.20" y="723.80" font-size="11.50" text-anchor="middle" font-weight="normal" font-style="normal" fill="#000" stroke="#000" stroke-width="0.35" >0</text>
<line x1="124.00" y1="704.35" x2="124.00" y2="709.10" stroke="#767676" stroke-width="1.50" />
<text x="124.00" y="723.80" font-size="11.50" text-anchor="middle" font-weight="normal" font-style="normal" fill="#000" stroke="#000" stroke-width="0.35" >3</text>
<line x1="185.00" y1="704.35" x2="185.00" y2="709.10" stroke="#767676" stroke-width="1.50" />
<text x="185.00" y="723.80" font-size="11.50" text-anchor="middle" font-weight="normal" font-style="normal" fill="#000" stroke="#000" stroke-width="0.35" >6</text>
<line x1="246.80" y1="704.35" x2="246.80" y2="709.10" stroke="#767676" stroke-width="1.50" />
<text x="246.80" y="723.80" font-size="11.50" text-anchor="middle" font-weight="normal" font-style="normal" fill="#000" stroke="#000" stroke-width="0.35" >9</text>
<line x1="308.50" y1="704.35" x2="308.50" y2="709.10" stroke="#767676" stroke-width="1.50" />
<text x="308.50" y="723.80" font-size="11.50" text-anchor="middle" font-weight="normal" font-style="normal" fill="#000" stroke="#000" stroke-width="0.35" >12</text>
<line x1="369.60" y1="704.35" x2="369.60" y2="709.10" stroke="#767676" stroke-width="1.50" />
<text x="369.60" y="723.80" font-size="11.50" text-anchor="middle" font-weight="normal" font-style="normal" fill="#000" stroke="#000" stroke-width="0.35" >18</text>
<line x1="431.50" y1="704.35" x2="431.50" y2="709.10" stroke="#767676" stroke-width="1.50" />
<text x="431.50" y="723.80" font-size="11.50" text-anchor="middle" font-weight="normal" font-style="normal" fill="#000" stroke="#000" stroke-width="0.35" >24</text>
<text x="254.80" y="741.00" font-size="11.80" text-anchor="middle" font-weight="normal" font-style="normal" fill="#000" stroke="#000" stroke-width="0.35" >Time (months)</text>
<text transform="translate(14.60,646.80) rotate(-90)" x="0" y="0" font-size="12.20" text-anchor="middle" font-weight="normal" stroke="#000" stroke-width="0.35" textLength="55.60" lengthAdjust="spacing">LDH (UI/L)</text>
<text transform="translate(518.00,644.00) rotate(-90)" x="0" y="0" font-size="12.20" text-anchor="middle" font-weight="normal" stroke="#000" stroke-width="0.35" textLength="134.80" lengthAdjust="spacing">Free Eculizumab (µg/mL)</text>
<line x1="58.50" y1="690.80" x2="463.20" y2="690.80" stroke="#95a8ca" stroke-width="1.80" />
<path d="M89.50,620.50 C90.75,620.50 94.50,620.59 97.00,620.50 C99.00,620.43 101.70,618.86 103.00,620.00 C105.78,622.44 106.42,629.22 109.25,631.25 C110.84,632.39 115.64,631.60 116.25,629.50 C119.47,618.52 118.57,594.84 120.75,592.00 C122.15,590.17 124.44,607.83 127.00,615.50 C128.94,621.33 132.27,626.68 134.25,632.50 C136.61,639.43 138.43,646.59 140.00,653.75 C141.35,659.92 141.33,666.48 143.00,672.50 C143.83,675.48 145.45,679.24 147.50,680.75 C148.62,681.58 150.81,679.81 152.50,679.50 C153.98,679.23 155.54,678.76 157.00,679.00 C160.12,679.51 163.41,682.30 166.25,681.75 C169.41,681.14 171.94,677.34 175.00,675.50 C177.36,674.09 180.00,673.17 182.50,672.00 C185.34,670.67 188.35,667.61 191.00,668.00 C194.02,668.44 196.33,673.63 199.50,674.50 C202.42,675.30 206.17,674.01 209.25,673.00 C212.01,672.09 214.48,668.52 217.00,668.75 C219.98,669.02 222.99,674.78 225.75,674.50 C228.74,674.20 231.54,666.73 234.25,667.00 C237.29,667.31 239.57,674.53 243.00,676.25 C245.23,677.37 248.53,675.29 251.25,675.50 C254.03,675.71 256.82,677.77 259.50,677.50 C262.65,677.18 265.84,673.42 268.75,673.75 C271.68,674.08 274.42,679.88 277.00,679.50 C280.09,679.05 283.14,670.72 285.75,671.25 C288.89,671.89 291.02,682.33 294.25,683.00 C297.02,683.58 300.35,676.05 303.75,675.00 C305.77,674.38 308.31,676.89 310.50,678.00 C313.72,679.64 317.17,683.88 320.00,683.25 C323.50,682.47 325.84,675.73 329.50,673.75 C331.68,672.57 335.04,672.99 337.50,673.75 C340.46,674.66 342.83,677.46 345.75,678.75 C348.50,679.96 351.54,681.04 354.50,681.25 C357.29,681.45 360.24,679.68 363.00,680.00 C366.07,680.35 368.92,682.78 372.00,683.25 C374.42,683.62 377.18,681.89 379.50,682.50 C382.60,683.31 385.21,687.15 388.25,687.50 C391.04,687.82 394.01,685.11 397.00,684.50 C399.76,683.94 402.68,684.28 405.50,684.00 C408.34,683.72 411.20,683.38 414.00,682.80 C416.70,682.24 419.30,681.04 422.00,680.60 C423.63,680.34 425.34,680.56 427.00,680.70 C428.51,680.83 429.99,681.25 431.50,681.40 C433.02,681.55 434.57,681.57 436.10,681.60 C437.77,681.63 440.27,681.60 441.10,681.60" fill="none" stroke="#5670a5" stroke-width="2" stroke-linejoin="round"/>
<path d="M89.50,617.80 L92.20,622.66 L86.80,622.66 Z" fill="#5670a5"/>
<path d="M97.00,617.80 L99.70,622.66 L94.30,622.66 Z" fill="#5670a5"/>
<path d="M103.00,617.30 L105.70,622.16 L100.30,622.16 Z" fill="#5670a5"/>
<path d="M109.25,628.55 L111.95,633.41 L106.55,633.41 Z" fill="#5670a5"/>
<path d="M116.25,626.80 L118.95,631.66 L113.55,631.66 Z" fill="#5670a5"/>
<path d="M120.75,589.30 L123.45,594.16 L118.05,594.16 Z" fill="#5670a5"/>
<path d="M127.00,612.80 L129.70,617.66 L124.30,617.66 Z" fill="#5670a5"/>
<path d="M134.25,629.80 L136.95,634.66 L131.55,634.66 Z" fill="#5670a5"/>
<path d="M140.00,651.05 L142.70,655.91 L137.30,655.91 Z" fill="#5670a5"/>
<path d="M143.00,669.80 L145.70,674.66 L140.30,674.66 Z" fill="#5670a5"/>
<path d="M147.50,678.05 L150.20,682.91 L144.80,682.91 Z" fill="#5670a5"/>
<path d="M152.50,676.80 L155.20,681.66 L149.80,681.66 Z" fill="#5670a5"/>
<path d="M157.00,676.30 L159.70,681.16 L154.30,681.16 Z" fill="#5670a5"/>
<path d="M166.25,679.05 L168.95,683.91 L163.55,683.91 Z" fill="#5670a5"/>
<path d="M175.00,672.80 L177.70,677.66 L172.30,677.66 Z" fill="#5670a5"/>
<path d="M182.50,669.30 L185.20,674.16 L179.80,674.16 Z" fill="#5670a5"/>
<path d="M191.00,665.30 L193.70,670.16 L188.30,670.16 Z" fill="#5670a5"/>
<path d="M199.50,671.80 L202.20,676.66 L196.80,676.66 Z" fill="#5670a5"/>
<path d="M209.25,670.30 L211.95,675.16 L206.55,675.16 Z" fill="#5670a5"/>
<path d="M217.00,666.05 L219.70,670.91 L214.30,670.91 Z" fill="#5670a5"/>
<path d="M225.75,671.80 L228.45,676.66 L223.05,676.66 Z" fill="#5670a5"/>
<path d="M234.25,664.30 L236.95,669.16 L231.55,669.16 Z" fill="#5670a5"/>
<path d="M243.00,673.55 L245.70,678.41 L240.30,678.41 Z" fill="#5670a5"/>
<path d="M251.25,672.80 L253.95,677.66 L248.55,677.66 Z" fill="#5670a5"/>
<path d="M259.50,674.80 L262.20,679.66 L256.80,679.66 Z" fill="#5670a5"/>
<path d="M268.75,671.05 L271.45,675.91 L266.05,675.91 Z" fill="#5670a5"/>
<path d="M277.00,676.80 L279.70,681.66 L274.30,681.66 Z" fill="#5670a5"/>
<path d="M285.75,668.55 L288.45,673.41 L283.05,673.41 Z" fill="#5670a5"/>
<path d="M294.25,680.30 L296.95,685.16 L291.55,685.16 Z" fill="#5670a5"/>
<path d="M303.75,672.30 L306.45,677.16 L301.05,677.16 Z" fill="#5670a5"/>
<path d="M310.50,675.30 L313.20,680.16 L307.80,680.16 Z" fill="#5670a5"/>
<path d="M320.00,680.55 L322.70,685.41 L317.30,685.41 Z" fill="#5670a5"/>
<path d="M329.50,671.05 L332.20,675.91 L326.80,675.91 Z" fill="#5670a5"/>
<path d="M337.50,671.05 L340.20,675.91 L334.80,675.91 Z" fill="#5670a5"/>
<path d="M345.75,676.05 L348.45,680.91 L343.05,680.91 Z" fill="#5670a5"/>
<path d="M354.50,678.55 L357.20,683.41 L351.80,683.41 Z" fill="#5670a5"/>
<path d="M363.00,677.30 L365.70,682.16 L360.30,682.16 Z" fill="#5670a5"/>
<path d="M372.00,680.55 L374.70,685.41 L369.30,685.41 Z" fill="#5670a5"/>
<path d="M379.50,679.80 L382.20,684.66 L376.80,684.66 Z" fill="#5670a5"/>
<path d="M388.25,684.80 L390.95,689.66 L385.55,689.66 Z" fill="#5670a5"/>
<path d="M397.00,681.80 L399.70,686.66 L394.30,686.66 Z" fill="#5670a5"/>
<path d="M405.50,681.30 L408.20,686.16 L402.80,686.16 Z" fill="#5670a5"/>
<path d="M414.00,680.10 L416.70,684.96 L411.30,684.96 Z" fill="#5670a5"/>
<path d="M422.00,677.90 L424.70,682.76 L419.30,682.76 Z" fill="#5670a5"/>
<path d="M427.00,678.00 L429.70,682.86 L424.30,682.86 Z" fill="#5670a5"/>
<path d="M431.50,678.70 L434.20,683.56 L428.80,683.56 Z" fill="#5670a5"/>
<path d="M436.10,678.90 L438.80,683.76 L433.40,683.76 Z" fill="#5670a5"/>
<path d="M441.10,678.90 L443.80,683.76 L438.40,683.76 Z" fill="#5670a5"/>
<path d="M142.50,653.00 L147.20,628.30 L152.90,586.80 L156.60,609.30 L164.60,601.20 L173.90,630.00 L182.20,628.20 L190.80,632.80 L199.20,634.30 L208.50,639.20 L216.50,636.90 L225.30,623.80 L234.30,620.10 L242.20,628.60 L251.70,601.30 L259.70,604.50 L268.70,610.00 L276.80,617.70 L286.00,609.80 L293.75,609.50 L302.50,601.25 L310.50,637.00 L320.00,651.25 L327.50,640.00 L337.50,630.00 L345.00,642.50 L354.50,639.50 L363.00,601.25 L371.25,609.50 L379.50,642.00 L388.75,623.75 L396.25,625.50 L405.50,630.00 L413.60,648.00 L422.50,601.90 L432.30,617.60 L439.80,634.60" fill="none" stroke="#000" stroke-width="2.6" stroke-dasharray="7 4" stroke-linejoin="round"/>
<rect x="140.25" y="650.75" width="4.50" height="4.50" fill="#000"/>
<rect x="144.95" y="626.05" width="4.50" height="4.50" fill="#000"/>
<rect x="154.35" y="607.05" width="4.50" height="4.50" fill="#000"/>
<rect x="162.35" y="598.95" width="4.50" height="4.50" fill="#000"/>
<rect x="171.65" y="627.75" width="4.50" height="4.50" fill="#000"/>
<rect x="179.95" y="625.95" width="4.50" height="4.50" fill="#000"/>
<rect x="188.55" y="630.55" width="4.50" height="4.50" fill="#000"/>
<rect x="196.95" y="632.05" width="4.50" height="4.50" fill="#000"/>
<rect x="206.25" y="636.95" width="4.50" height="4.50" fill="#000"/>
<rect x="214.25" y="634.65" width="4.50" height="4.50" fill="#000"/>
<rect x="223.05" y="621.55" width="4.50" height="4.50" fill="#000"/>
<rect x="232.05" y="617.85" width="4.50" height="4.50" fill="#000"/>
<rect x="239.95" y="626.35" width="4.50" height="4.50" fill="#000"/>
<rect x="249.45" y="599.05" width="4.50" height="4.50" fill="#000"/>
<rect x="257.45" y="602.25" width="4.50" height="4.50" fill="#000"/>
<rect x="266.45" y="607.75" width="4.50" height="4.50" fill="#000"/>
<rect x="274.55" y="615.45" width="4.50" height="4.50" fill="#000"/>
<rect x="283.75" y="607.55" width="4.50" height="4.50" fill="#000"/>
<rect x="291.50" y="607.25" width="4.50" height="4.50" fill="#000"/>
<rect x="300.25" y="599.00" width="4.50" height="4.50" fill="#000"/>
<rect x="308.25" y="634.75" width="4.50" height="4.50" fill="#000"/>
<rect x="317.75" y="649.00" width="4.50" height="4.50" fill="#000"/>
<rect x="325.25" y="637.75" width="4.50" height="4.50" fill="#000"/>
<rect x="335.25" y="627.75" width="4.50" height="4.50" fill="#000"/>
<rect x="342.75" y="640.25" width="4.50" height="4.50" fill="#000"/>
<rect x="352.25" y="637.25" width="4.50" height="4.50" fill="#000"/>
<rect x="360.75" y="599.00" width="4.50" height="4.50" fill="#000"/>
<rect x="369.00" y="607.25" width="4.50" height="4.50" fill="#000"/>
<rect x="377.25" y="639.75" width="4.50" height="4.50" fill="#000"/>
<rect x="386.50" y="621.50" width="4.50" height="4.50" fill="#000"/>
<rect x="394.00" y="623.25" width="4.50" height="4.50" fill="#000"/>
<rect x="403.25" y="627.75" width="4.50" height="4.50" fill="#000"/>
<rect x="411.35" y="645.75" width="4.50" height="4.50" fill="#000"/>
<rect x="420.25" y="599.65" width="4.50" height="4.50" fill="#000"/>
<rect x="430.05" y="615.35" width="4.50" height="4.50" fill="#000"/>
<rect x="437.55" y="632.35" width="4.50" height="4.50" fill="#000"/>
<line x1="0.00" y1="769.00" x2="23.00" y2="769.00" stroke="#a8a8a8" stroke-width="3.00" stroke-dasharray="2 1"/>
<text x="25.30" y="772.80" font-size="12.00" text-anchor="start" font-weight="normal" font-style="normal" fill="#000" stroke="#000" stroke-width="0.35"  textLength="120.00" lengthAdjust="spacing">Blocked CH50 (≤10%)</text>
<line x1="161.50" y1="769.10" x2="185.60" y2="769.10" stroke="#6d84b8" stroke-width="1.60" />
<text x="187.70" y="772.80" font-size="12.00" text-anchor="start" font-weight="normal" font-style="normal" fill="#000" stroke="#000" stroke-width="0.35" >Normal LDH level (480 UI/L)</text>
<polygon points="353.20,763.20 353.83,764.73 355.48,764.86 354.23,765.93 354.61,767.54 353.20,766.68 351.79,767.54 352.17,765.93 350.92,764.86 352.57,764.73" fill="#c1272d"/>
<text x="357.50" y="772.80" font-size="12.00" text-anchor="start" font-weight="normal" font-style="normal" fill="#000" stroke="#000" stroke-width="0.35"  textLength="155.50" lengthAdjust="spacing">Transfusions (Red Blood Cell)</text>
</svg>
</body></html>
